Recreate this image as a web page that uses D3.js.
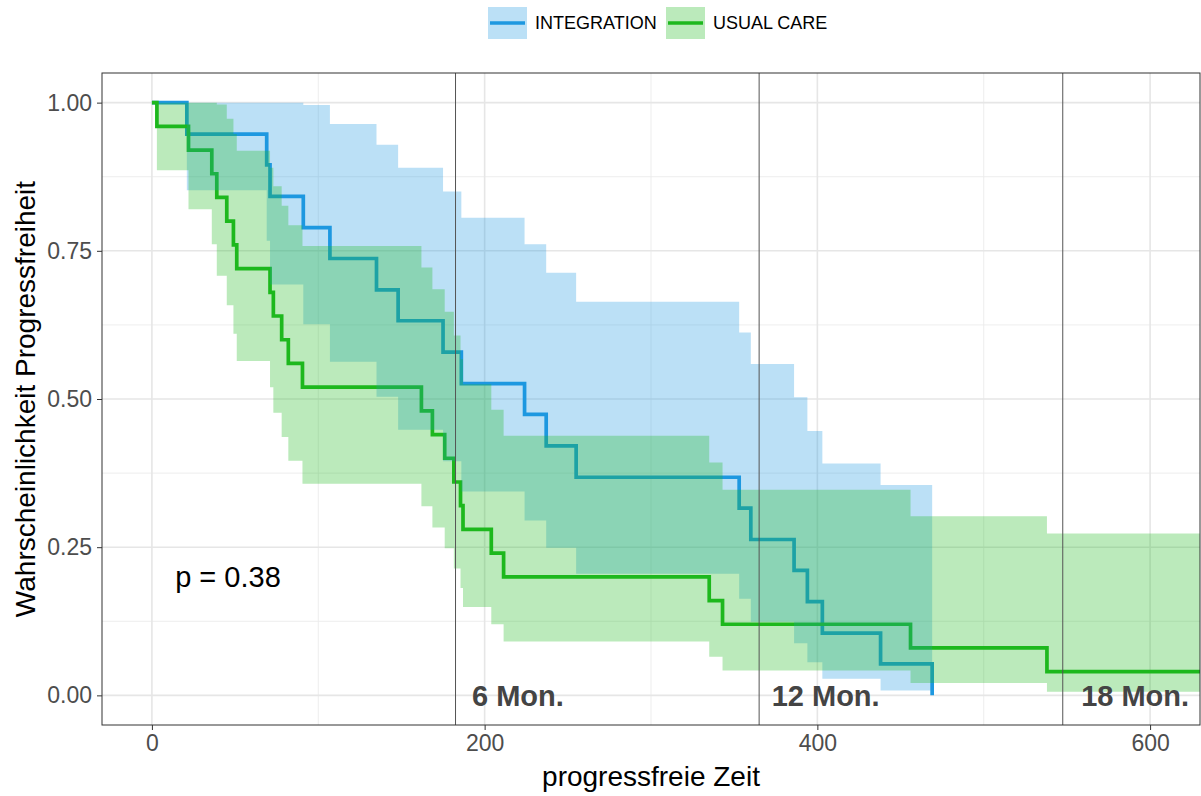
<!DOCTYPE html>
<html>
<head>
<meta charset="utf-8">
<script src="https://cdn.jsdelivr.net/npm/d3@7"></script>
<style>
  html, body { margin: 0; padding: 0; background: #fff; }
  svg text { font-family: "Liberation Sans", Arial, Helvetica, sans-serif; }
</style>
</head>
<body>
<svg id="chart" width="1201" height="796"></svg>
<script>
// Kaplan-Meier estimates (progression-free survival) with 95% confidence limits
const groups = ["INTEGRATION", "USUAL CARE"];

const intTimes = [0, 21, 69, 71, 91, 107, 135, 148, 175, 186, 224, 237, 255, 353, 360, 386, 394, 403, 438, 469];
const intSurv  = [1, 0.947, 0.895, 0.842, 0.789, 0.737, 0.684, 0.632, 0.579, 0.526, 0.474, 0.421, 0.368, 0.316, 0.263, 0.211, 0.158, 0.105, 0.053, 0];
const intLower = [1, 0.852, 0.767, 0.693, 0.626, 0.563, 0.504, 0.448, 0.395, 0.344, 0.295, 0.249, 0.205, 0.163, 0.124, 0.088, 0.056, 0.028, 0.008, null];
const intUpper = [1, 1, 1, 1, 0.996, 0.964, 0.929, 0.890, 0.850, 0.806, 0.761, 0.713, 0.664, 0.612, 0.559, 0.503, 0.446, 0.391, 0.355, null];

const ucTimes = [0, 3, 22, 36, 39, 45, 49, 51, 71, 73, 78, 82, 90.5, 162, 168.6, 176, 181.5, 185.5, 187, 204, 211.4, 335, 343, 456, 538, 640];
const ucSurv  = [1, 0.96, 0.92, 0.88, 0.84, 0.80, 0.76, 0.72, 0.68, 0.64, 0.60, 0.56, 0.52, 0.48, 0.44, 0.40, 0.36, 0.32, 0.28, 0.24, 0.20, 0.16, 0.12, 0.08, 0.04, 0.04];
const ucLower = [1, 0.886, 0.820, 0.761, 0.708, 0.658, 0.610, 0.564, 0.520, 0.477, 0.436, 0.396, 0.357, 0.319, 0.283, 0.248, 0.214, 0.181, 0.149, 0.120, 0.091, 0.065, 0.042, 0.021, 0.006, 0.006];
const ucUpper = [1, 1, 1, 1, 0.997, 0.973, 0.947, 0.919, 0.890, 0.859, 0.826, 0.793, 0.758, 0.722, 0.685, 0.647, 0.607, 0.567, 0.525, 0.482, 0.438, 0.393, 0.347, 0.302, 0.273, 0.273];

const xTicks = [0, 200, 400, 600];
const xMinor = [100, 300, 500];
const yTicks = [0, 0.25, 0.5, 0.75, 1];
const yMinor = [0.125, 0.375, 0.625, 0.875];

const markTimes  = [182.5, 365, 547.5];
const markLabels = ["6 Mon.", "12 Mon.", "18 Mon."];
const markLabelX = [220, 405, 591];

const pText = "p = 0.38";
const pPos = [14, 0.2];

const colors = ["#1E98E0", "#1EB81E"];

const W = 1201, H = 796;
const panel = { left: 102, top: 73, right: 1200, bottom: 725 };

const svg = d3.select("#chart");
const x = d3.scaleLinear().domain([-30, 630]).range([panel.left, panel.right]);
const y = d3.scaleLinear().domain([-0.05, 1.05]).range([panel.bottom, panel.top]);

svg.append("defs").append("clipPath").attr("id", "clip")
  .append("rect")
  .attr("x", panel.left).attr("y", panel.top)
  .attr("width", panel.right - panel.left).attr("height", panel.bottom - panel.top);

// grid
const grid = svg.append("g");
grid.selectAll(".gxm").data(xMinor).join("line")
  .attr("x1", d => x(d)).attr("x2", d => x(d))
  .attr("y1", panel.top).attr("y2", panel.bottom)
  .attr("stroke", "#EBEBEB").attr("stroke-width", 0.9);
grid.selectAll(".gym").data(yMinor).join("line")
  .attr("y1", d => y(d)).attr("y2", d => y(d))
  .attr("x1", panel.left).attr("x2", panel.right)
  .attr("stroke", "#EBEBEB").attr("stroke-width", 0.9);
grid.selectAll(".gx").data(xTicks).join("line")
  .attr("x1", d => x(d)).attr("x2", d => x(d))
  .attr("y1", panel.top).attr("y2", panel.bottom)
  .attr("stroke", "#E6E6E6").attr("stroke-width", 1.6);
grid.selectAll(".gy").data(yTicks).join("line")
  .attr("y1", d => y(d)).attr("y2", d => y(d))
  .attr("x1", panel.left).attr("x2", panel.right)
  .attr("stroke", "#E6E6E6").attr("stroke-width", 1.6);

const plot = svg.append("g").attr("clip-path", "url(#clip)");

function toRows(times, surv, lo, hi) {
  return times.map((t, i) => ({ t, s: surv[i], lo: lo[i], hi: hi[i] }));
}
const series = [
  toRows(intTimes, intSurv, intLower, intUpper),
  toRows(ucTimes, ucSurv, ucLower, ucUpper)
];

// survival curves
const line = d3.line().x(d => x(d.t)).y(d => y(d.s)).curve(d3.curveStepAfter);
series.forEach((rows, i) => {
  plot.append("path").attr("d", line(rows))
    .attr("fill", "none").attr("stroke", colors[i])
    .attr("stroke-width", 3.7).attr("stroke-linejoin", "miter");
});

// confidence bands as staircases
function bandPoints(rows) {
  const pts = [];
  for (let i = 0; i < rows.length - 1; i++) {
    if (rows[i].lo == null) continue;
    pts.push({ t: rows[i].t, lo: rows[i].lo, hi: rows[i].hi });
    pts.push({ t: rows[i + 1].t, lo: rows[i].lo, hi: rows[i].hi });
  }
  return pts;
}
const area = d3.area().x(d => x(d.t)).y0(d => y(d.lo)).y1(d => y(d.hi));
series.forEach((rows, i) => {
  plot.append("path").attr("d", area(bandPoints(rows)))
    .attr("fill", colors[i]).attr("fill-opacity", 0.3).attr("stroke", "none");
});

// month markers
plot.selectAll(".vl").data(markTimes).join("line")
  .attr("x1", d => x(d)).attr("x2", d => x(d))
  .attr("y1", panel.top).attr("y2", panel.bottom)
  .attr("stroke", "#555").attr("stroke-width", 1);
svg.selectAll(".ml").data(markLabels).join("text")
  .attr("x", (d, i) => x(markLabelX[i])).attr("y", y(0))
  .attr("dy", "0.35em").attr("text-anchor", "middle")
  .attr("font-size", 29).attr("font-weight", "bold").attr("fill", "#444")
  .text(d => d);

svg.append("text").attr("x", x(pPos[0])).attr("y", y(pPos[1]))
  .attr("dy", "0.35em").attr("font-size", 29).attr("fill", "#000").text(pText);

// panel border
svg.append("rect")
  .attr("x", panel.left).attr("y", panel.top)
  .attr("width", panel.right - panel.left).attr("height", panel.bottom - panel.top)
  .attr("fill", "none").attr("stroke", "#333").attr("stroke-width", 1);

// axes
const xAxis = svg.append("g").attr("transform", `translate(0,${panel.bottom})`)
  .call(d3.axisBottom(x).tickValues(xTicks).tickSize(5).tickSizeOuter(0).tickPadding(5));
const yAxis = svg.append("g").attr("transform", `translate(${panel.left},0)`)
  .call(d3.axisLeft(y).tickValues(yTicks).tickSize(5).tickSizeOuter(0).tickPadding(5).tickFormat(d3.format(".2f")));
[xAxis, yAxis].forEach(a => {
  a.select(".domain").remove();
  a.selectAll(".tick line").attr("stroke", "#333").attr("stroke-width", 1);
  a.selectAll(".tick text").attr("fill", "#4D4D4D").attr("font-size", 23)
    .attr("font-family", "'Liberation Sans', Arial, sans-serif");
});

svg.append("text").attr("x", (panel.left + panel.right) / 2).attr("y", 776)
  .attr("dy", "0.35em").attr("text-anchor", "middle").attr("font-size", 28)
  .attr("fill", "#000").text("progressfreie Zeit");
svg.append("text")
  .attr("transform", `translate(25,${(panel.top + panel.bottom) / 2}) rotate(-90)`)
  .attr("dy", "0.35em").attr("text-anchor", "middle").attr("font-size", 28)
  .attr("fill", "#000").text("Wahrscheinlichkeit Progressfreiheit");

// legend
const legendX = [488, 666];
const lg = svg.append("g");
groups.forEach((g, i) => {
  lg.append("rect").attr("x", legendX[i]).attr("y", 7).attr("width", 39).attr("height", 32)
    .attr("fill", colors[i]).attr("fill-opacity", 0.3);
  lg.append("line").attr("x1", legendX[i] + 2).attr("x2", legendX[i] + 37)
    .attr("y1", 23).attr("y2", 23).attr("stroke", colors[i]).attr("stroke-width", 3.7);
  lg.append("text").attr("x", legendX[i] + 47).attr("y", 23).attr("dy", "0.35em")
    .attr("font-size", 18).attr("fill", "#000").text(g);
});
</script>
</body>
</html>
